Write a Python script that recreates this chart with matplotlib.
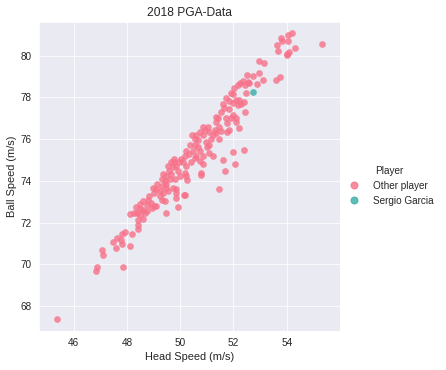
import matplotlib
matplotlib.use("Agg")
import matplotlib.pyplot as plt
import seaborn as sns
from matplotlib.lines import Line2D

sns.set_style("darkgrid")
plt.rcParams['font.family'] = ['Liberation Sans', 'DejaVu Sans']

# head speed / ball speed of the other players (m/s)
other_head = [54.21, 54.06, 53.77, 53.84, 53.62, 53.67, 54.06, 55.33, 54.30, 54.02,
              54.08, 54.00, 52.94, 53.16, 52.96, 53.09, 52.90, 53.59, 53.74, 52.49,
              52.72, 52.34, 52.24, 52.16, 52.03, 52.59, 52.44, 51.91, 51.72, 51.85,
              51.60, 52.00, 52.10, 52.22, 52.41, 52.16, 51.85, 51.55, 52.42, 51.97,
              51.72, 51.42, 51.35, 52.10, 52.10, 52.22, 51.76, 51.76, 51.47, 51.29,
              51.22, 51.45, 51.10, 50.95, 50.85, 51.04, 50.75, 50.60, 50.45, 50.54,
              50.66, 50.85, 50.97, 51.10, 51.00, 51.10, 51.22, 50.54, 50.48, 50.73,
              50.85, 50.23, 50.33, 50.17, 50.54, 50.73, 50.85, 50.04, 50.10, 49.96,
              49.76, 49.76, 49.86, 49.74, 49.92, 50.17, 50.21, 50.26, 50.80, 50.80,
              51.60, 51.70, 52.00, 52.05, 52.38, 51.45, 49.58, 49.67, 49.48, 49.36,
              49.63, 49.42, 49.30, 49.81, 49.48, 49.30, 49.13, 49.48, 49.74, 49.86,
              49.84, 48.99, 49.01, 49.24, 49.36, 50.17, 50.13, 49.84, 49.30, 49.42,
              48.80, 48.92, 48.61, 48.74, 48.49, 49.01, 49.11, 48.96, 48.36, 48.51,
              48.61, 48.39, 49.92, 48.11, 48.28, 48.51, 49.48, 48.42, 48.59, 48.42,
              48.42, 48.20, 47.93, 47.80, 47.62, 47.78, 47.47, 47.80, 47.58, 48.11,
              47.08, 47.12, 46.87, 46.83, 47.87, 45.37, 48.77, 48.67, 48.84, 49.11,
              49.24, 49.55, 49.67, 49.55, 49.98, 50.23, 50.40, 50.60, 50.36, 50.66,
              51.35, 51.16, 51.53, 51.85, 51.91, 51.35, 51.66, 52.28, 52.47, 52.53,
              51.97]
other_ball = [81.09, 80.97, 80.84, 80.70, 80.49, 80.24, 80.68, 80.55, 80.36, 80.08,
              80.15, 80.05, 79.76, 79.66, 79.16, 78.85, 78.62, 78.83, 78.98, 79.07,
              79.03, 78.78, 78.70, 78.59, 78.46, 78.70, 78.59, 78.21, 77.97, 77.84,
              77.68, 77.73, 77.89, 77.89, 77.78, 77.61, 77.45, 77.32, 77.29, 77.16,
              77.03, 77.00, 76.83, 77.03, 76.80, 76.54, 76.75, 76.35, 76.59, 76.43,
              76.18, 76.02, 76.35, 76.43, 76.59, 76.56, 76.35, 76.18, 76.22, 76.02,
              75.94, 76.18, 75.86, 75.73, 75.62, 75.34, 75.18, 75.70, 75.45, 75.41,
              75.21, 75.45, 75.29, 75.21, 75.08, 74.97, 74.81, 75.05, 74.89, 74.92,
              75.05, 74.89, 74.72, 74.64, 74.48, 74.37, 74.24, 74.05, 74.40, 74.27,
              75.02, 74.48, 75.37, 74.81, 75.47, 73.59, 74.48, 74.32, 74.24, 74.32,
              74.08, 74.00, 74.08, 74.08, 73.84, 73.76, 73.84, 73.68, 73.68, 73.59,
              73.43, 73.68, 73.43, 73.51, 73.43, 73.34, 73.30, 73.20, 73.10, 73.02,
              73.10, 72.94, 73.02, 72.86, 72.91, 72.78, 72.78, 72.69, 72.74, 72.65,
              72.58, 72.48, 72.74, 72.42, 72.45, 72.37, 72.45, 72.13, 72.16, 71.88,
              71.67, 71.43, 71.56, 71.43, 71.28, 71.18, 71.07, 70.99, 70.80, 70.86,
              70.67, 70.45, 69.86, 69.69, 69.89, 67.40, 72.56, 72.45, 73.26, 73.59,
              73.26, 73.51, 74.89, 74.69, 74.24, 74.72, 74.89, 75.21, 75.70, 75.62,
              76.27, 76.02, 76.38, 76.43, 77.00, 77.08, 77.48, 77.68, 78.21, 78.73,
              78.16]

garcia_head = [52.73]
garcia_ball = [78.25]

players = ["Other player", "Sergio Garcia"]
colors = ["#f77189", "#36ada4"]

fig = plt.figure(figsize=(446 / 72, 370 / 72), dpi=72)
ax = fig.add_axes([0.0874, 0.105, 0.675, 0.835])

ax.scatter(other_head, other_ball, s=45, color=colors[0], alpha=0.8, linewidths=0)
ax.scatter(garcia_head, garcia_ball, s=45, color=colors[1], alpha=0.8, linewidths=0)

ax.set_xlim(44.7, 56.0)
ax.set_ylim(66.8, 81.6)
ax.set_xticks([46, 48, 50, 52, 54])
ax.set_yticks([68, 70, 72, 74, 76, 78, 80])
ax.tick_params(labelsize=10)
ax.set_xlabel("Head Speed (m/s)", fontsize=11)
ax.set_ylabel("Ball Speed (m/s)", fontsize=11)
ax.set_title("2018 PGA-Data", fontsize=12)

handles = [Line2D([], [], marker='o', linestyle='', color=c, alpha=0.8, markersize=7)
           for c in colors]
leg = fig.legend(handles, players, title="Player", loc="center left",
                 bbox_to_anchor=(0.752, 0.498), frameon=False, fontsize=10,
                 title_fontsize=10, handletextpad=0.9)

fig.savefig("out.png", dpi=72)
